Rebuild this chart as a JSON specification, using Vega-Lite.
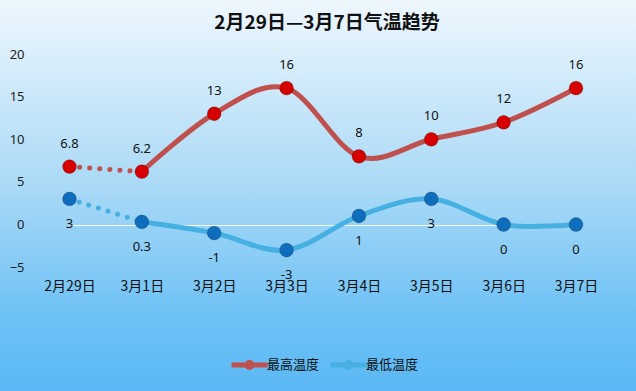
{
  "$schema": "https://vega.github.io/schema/vega-lite/v6.json",
  "width": 636,
  "height": 391,
  "autosize": {"type": "none"},
  "padding": 0,
  "background": "#8fd0f6",
  "config": {
    "view": {
      "stroke": null,
      "fill": {
        "gradient": "linear",
        "x1": 0, "y1": 0, "x2": 0, "y2": 1,
        "stops": [
          {"offset": 0, "color": "#eef7fd"},
          {"offset": 0.5, "color": "#a6d8f6"},
          {"offset": 0.8, "color": "#6fc2f6"},
          {"offset": 1, "color": "#5bb8f4"}
        ]
      }
    },
    "font": "Noto Sans CJK SC"
  },
  "title": {
    "text": "2月29日—3月7日气温趋势",
    "font": "Noto Sans CJK SC",
    "fontSize": 19,
    "fontWeight": "bold",
    "color": "#111111",
    "anchor": "middle",
    "offset": -33,
    "dx": 9
  },
  "datasets": {
    "temps": [
      {"date": "2月29日", "series": "最高温度", "value": 6.8},
      {"date": "3月1日", "series": "最高温度", "value": 6.2},
      {"date": "3月2日", "series": "最高温度", "value": 13},
      {"date": "3月3日", "series": "最高温度", "value": 16},
      {"date": "3月4日", "series": "最高温度", "value": 8},
      {"date": "3月5日", "series": "最高温度", "value": 10},
      {"date": "3月6日", "series": "最高温度", "value": 12},
      {"date": "3月7日", "series": "最高温度", "value": 16},
      {"date": "2月29日", "series": "最低温度", "value": 3},
      {"date": "3月1日", "series": "最低温度", "value": 0.3},
      {"date": "3月2日", "series": "最低温度", "value": -1},
      {"date": "3月3日", "series": "最低温度", "value": -3},
      {"date": "3月4日", "series": "最低温度", "value": 1},
      {"date": "3月5日", "series": "最低温度", "value": 3},
      {"date": "3月6日", "series": "最低温度", "value": 0},
      {"date": "3月7日", "series": "最低温度", "value": 0}
    ]
  },
  "data": {"name": "temps"},
  "encoding": {
    "x": {
      "field": "date",
      "type": "ordinal",
      "scale": {
        "type": "point",
        "domain": ["2月29日", "3月1日", "3月2日", "3月3日", "3月4日", "3月5日", "3月6日", "3月7日"],
        "range": [69.5, 576],
        "padding": 0
      },
      "axis": {
        "title": null,
        "orient": "bottom",
        "offset": -114,
        "domain": false,
        "ticks": false,
        "tickSize": 0,
        "labelPadding": 2,
        "labelAngle": 0,
        "labelFont": "Noto Sans CJK SC",
        "labelFontSize": 14,
        "labelColor": "#111111",
        "grid": false
      }
    },
    "y": {
      "field": "value",
      "type": "quantitative",
      "scale": {"domain": [-19.54, 26.35], "nice": false, "zero": false},
      "axis": {
        "title": null,
        "orient": "left",
        "offset": -24,
        "domain": false,
        "ticks": false,
        "tickSize": 0,
        "labelPadding": 0,
        "values": [-5, 0, 5, 10, 15, 20],
        "labelFont": "Noto Sans",
        "labelFontSize": 13,
        "labelColor": "#222222",
        "grid": true,
        "gridColor": "#ffffff",
        "gridWidth": 1,
        "gridOpacity": {"condition": {"test": "datum.value === 0", "value": 0.9}, "value": 0}
      }
    }
  },
  "layer": [
    {
      "transform": [{"filter": "datum.date !== '2月29日'"}],
      "mark": {"type": "line", "interpolate": "cardinal", "strokeWidth": 5, "strokeCap": "round"},
      "encoding": {
        "stroke": {
          "field": "series",
          "type": "nominal",
          "scale": {"domain": ["最高温度", "最低温度"], "range": ["#c0504d", "#45b0e1"]},
          "legend": {
            "orient": "none",
            "legendX": 232,
            "legendY": 347,
            "direction": "horizontal",
            "title": null,
            "symbolType": "M-1.2,0L1.2,0M-0.17,0A0.17,0.17,0,1,0,0.17,0A0.17,0.17,0,1,0,-0.17,0",
            "symbolSize": 900,
            "symbolStrokeWidth": 5,
            "symbolFillColor": "transparent",
            "labelFont": "Noto Sans CJK SC",
            "labelFontSize": 13,
            "labelColor": "#111111",
            "labelOffset": 0,
            "columnPadding": 0,
            "padding": 0
          }
        }
      }
    },
    {
      "transform": [{"filter": "datum.date === '2月29日' || datum.date === '3月1日'"}],
      "mark": {"type": "line", "strokeWidth": 5, "strokeCap": "round", "strokeDash": [0.1, 10]},
      "encoding": {
        "stroke": {"field": "series", "type": "nominal"}
      }
    },
    {
      "mark": {"type": "circle", "size": 190, "opacity": 1, "stroke": "#000000", "strokeOpacity": 0.22, "strokeWidth": 1},
      "encoding": {
        "fill": {
          "field": "series",
          "type": "nominal",
          "scale": {"domain": ["最高温度", "最低温度"], "range": ["#d60000", "#0f6dbd"]},
          "legend": null
        }
      }
    },
    {
      "transform": [{"filter": "datum.series === '最高温度'"}],
      "mark": {"type": "text", "dy": -23, "font": "Noto Sans", "fontSize": 13, "color": "#111111"},
      "encoding": {"text": {"field": "value", "type": "nominal"}}
    },
    {
      "transform": [{"filter": "datum.series === '最低温度'"}],
      "mark": {"type": "text", "dy": 25, "font": "Noto Sans", "fontSize": 13, "color": "#111111"},
      "encoding": {"text": {"field": "value", "type": "nominal"}}
    }
  ]
}
